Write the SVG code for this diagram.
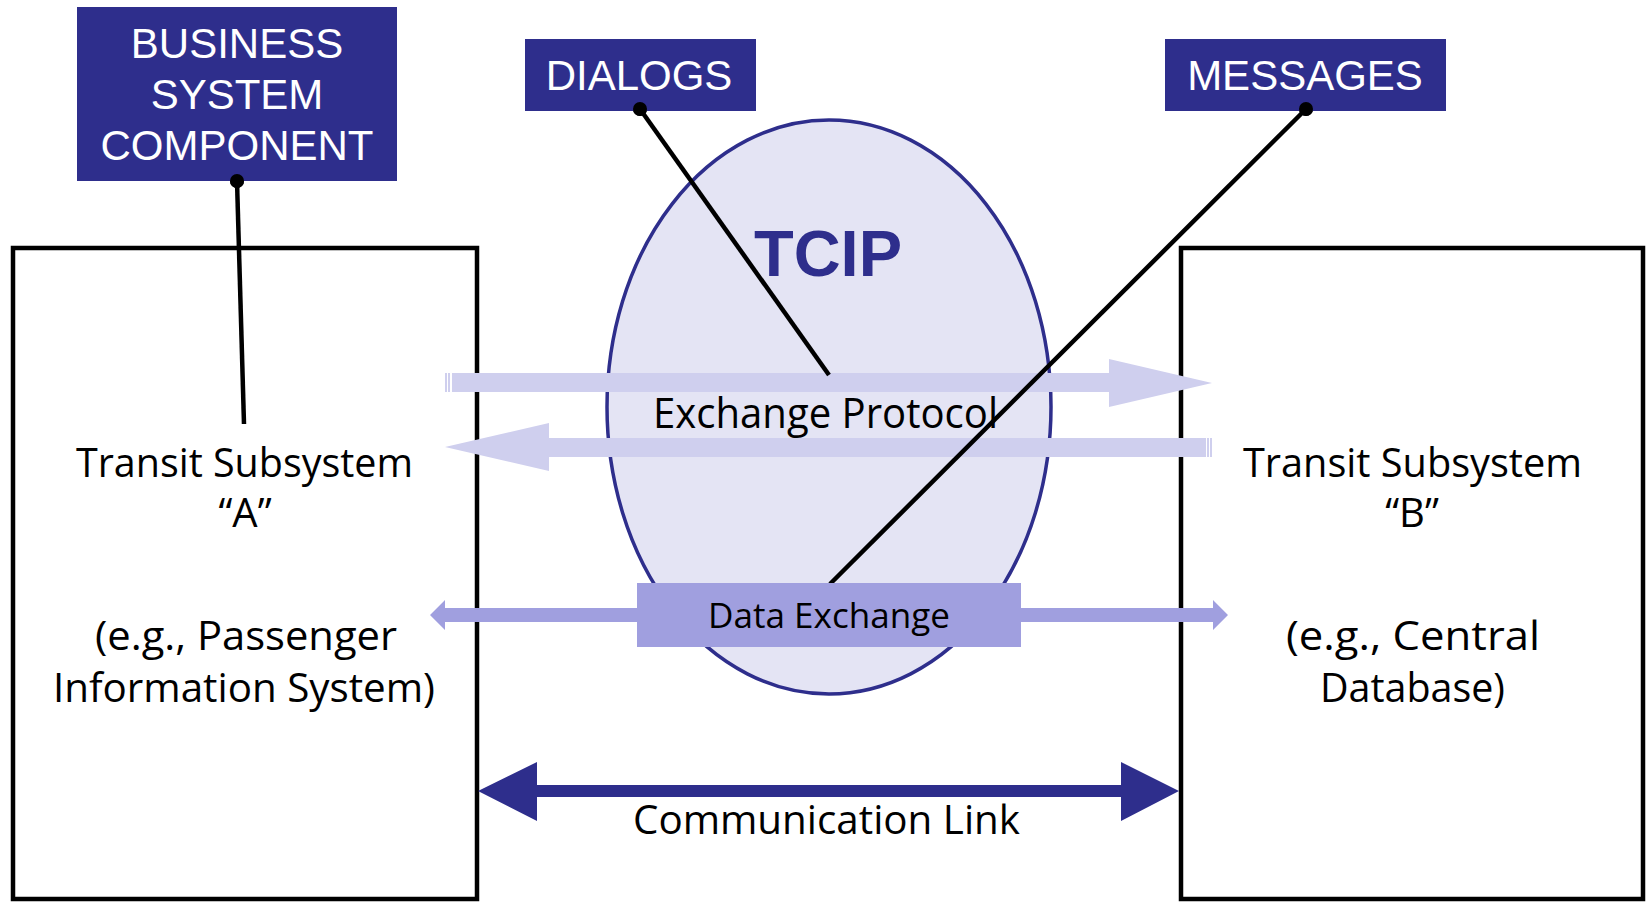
<svg xmlns="http://www.w3.org/2000/svg" width="1650" height="902" viewBox="0 0 1650 902">
<style>
.box{fill:#fff;stroke:#000;stroke-width:4.5}
.tag{fill:#2E2E8C}
.tagtxt{font-family:"Liberation Sans",Arial,sans-serif;font-size:42px;fill:#fff;text-anchor:middle}
.body{font-family:"Open Sans","DejaVu Sans",sans-serif;font-size:40px;fill:#000;text-anchor:middle}
.lead{stroke:#000;stroke-width:4.5;fill:none}
.dot{fill:#000}
.lt{fill:#CFCFEE}
.md{fill:#A09FDF}
.nv{fill:#2E2E8C}
</style>
<rect width="1650" height="902" fill="#fff"/>
<g id="subsystem-a">
<rect class="box" x="13" y="248" width="464" height="651"/>
<text class="body" x="244.5" y="477" textLength="337" lengthAdjust="spacingAndGlyphs">Transit Subsystem</text>
<text class="body" x="245" y="527">“A”</text>
<text class="body" x="246" y="650" textLength="302" lengthAdjust="spacingAndGlyphs">(e.g., Passenger</text>
<text class="body" x="244" y="702" textLength="382" lengthAdjust="spacingAndGlyphs">Information System)</text>
</g>
<g id="subsystem-b">
<rect class="box" x="1181" y="248" width="462" height="651"/>
<text class="body" x="1412.5" y="477" textLength="339" lengthAdjust="spacingAndGlyphs">Transit Subsystem</text>
<text class="body" x="1412" y="527">“B”</text>
<text class="body" x="1413" y="650" textLength="254" lengthAdjust="spacingAndGlyphs">(e.g., Central</text>
<text class="body" x="1412.5" y="702" textLength="185" lengthAdjust="spacingAndGlyphs">Database)</text>
</g>
<g id="tcip">
<ellipse cx="829" cy="407" rx="222" ry="287" fill="#E4E4F4" stroke="#2E2E8C" stroke-width="3.5"/>
<text x="828" y="276" font-family="Liberation Sans,Arial,sans-serif" font-size="65" font-weight="bold" fill="#2E2E8C" text-anchor="middle">TCIP</text>
</g>
<g id="connectors">
<g id="exchange-protocol">
<rect class="lt" x="452" y="373" width="657" height="19"/>
<rect class="lt" x="445" y="373" width="2" height="19"/>
<rect class="lt" x="448" y="373" width="2" height="19"/>
<polygon class="lt" points="1109,359 1212,383 1109,407"/>
<rect class="lt" x="549" y="438" width="657" height="19"/>
<rect class="lt" x="1207" y="438" width="2" height="19"/>
<rect class="lt" x="1210" y="438" width="2" height="19"/>
<polygon class="lt" points="549,423 445,447 549,471"/>
<text x="825.5" y="428" font-family="Open Sans,DejaVu Sans,sans-serif" font-size="42" text-anchor="middle" textLength="345" lengthAdjust="spacingAndGlyphs">Exchange Protocol</text>
</g>
<g id="communication-link">
<polygon class="nv" points="478,791 537,762 537,785 1121,785 1121,762 1179,791 1121,821 1121,797 537,797 537,821"/>
<text x="826.5" y="834" font-family="Open Sans,DejaVu Sans,sans-serif" font-size="40" text-anchor="middle" textLength="387" lengthAdjust="spacingAndGlyphs">Communication Link</text>
</g>
<g id="leaders">
<line class="lead" x1="237" y1="181" x2="244" y2="424"/>
<circle class="dot" cx="237" cy="181" r="7"/>
<line class="lead" x1="640" y1="109" x2="829" y2="375"/>
<circle class="dot" cx="640" cy="109" r="7"/>
<line class="lead" x1="1306" y1="109" x2="830" y2="584"/>
<circle class="dot" cx="1306" cy="109" r="7"/>
</g>
<g id="data-exchange">
<polygon class="md" points="430,615 445,600 445,608 1213,608 1213,600 1228,615 1213,630 1213,622 445,622 445,630"/>
<rect class="md" x="637" y="583" width="384" height="64"/>
<text x="829" y="628" font-family="Open Sans,DejaVu Sans,sans-serif" font-size="35" text-anchor="middle" textLength="242" lengthAdjust="spacingAndGlyphs">Data Exchange</text>
</g>
</g>
<g id="business-system-component">
<rect class="tag" x="77" y="7" width="320" height="174"/>
<text class="tagtxt" x="237" y="58">BUSINESS</text>
<text class="tagtxt" x="237" y="109">SYSTEM</text>
<text class="tagtxt" x="237" y="160">COMPONENT</text>
<circle class="dot" cx="237" cy="181" r="7"/>
</g>
<g id="dialogs">
<rect class="tag" x="525" y="39" width="231" height="72"/>
<text class="tagtxt" x="639" y="90">DIALOGS</text>
<circle class="dot" cx="640" cy="109" r="7"/>
</g>
<g id="messages">
<rect class="tag" x="1165" y="39" width="281" height="72"/>
<text class="tagtxt" x="1305" y="90">MESSAGES</text>
<circle class="dot" cx="1306" cy="109" r="7"/>
</g>
</svg>
